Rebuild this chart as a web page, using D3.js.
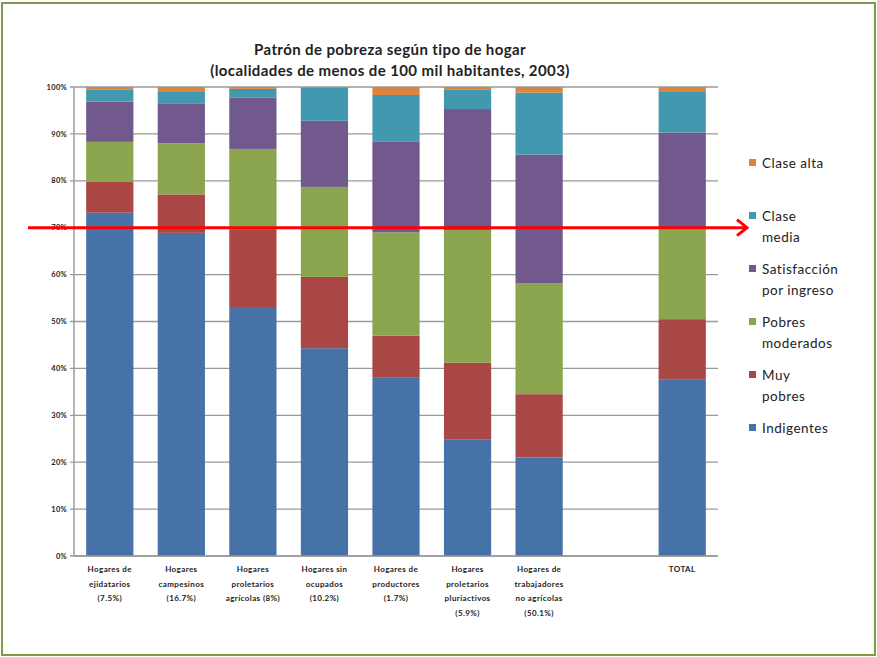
<!DOCTYPE html>
<html>
<head>
<meta charset="utf-8">
<script src="https://cdn.jsdelivr.net/npm/d3@7"></script>
<style>
  body { margin: 0; background: #fff; }
  svg { display: block; font-family: Lato, "Open Sans", sans-serif; }
</style>
</head>
<body>
<div id="chart"></div>
<script>
// categories (x axis), each label split in lines
var categories = ["ejidatarios", "campesinos", "prolAgricolas", "sinOcupados", "productores",
                  "pluriactivos", "noAgricolas", "blank", "total"];
var catLabels = [
  ["Hogares de", "ejidatarios", "(7.5%)"],
  ["Hogares", "campesinos", "(16.7%)"],
  ["Hogares", "proletarios", "agrícolas (8%)"],
  ["Hogares sin", "ocupados", "(10.2%)"],
  ["Hogares de", "productores", "(1.7%)"],
  ["Hogares", "proletarios", "pluriactivos", "(5.9%)"],
  ["Hogares de", "trabajadores", "no agrícolas", "(50.1%)"],
  [],
  ["TOTAL"]
];

// series values (% of households), bottom to top
var indigentes   = [73.2, 68.9, 53.1, 44.3, 38.0, 24.9, 21.0, 0, 37.7];
var muyPobres    = [ 6.6,  8.2, 16.6, 15.2,  9.0, 16.3, 13.5, 0, 12.8];
var pobresMod    = [ 8.5, 10.9, 17.1, 19.2, 22.0, 28.3, 23.6, 0, 19.2];
var satisfaccion = [ 8.6,  8.4, 10.9, 14.1, 19.3, 25.8, 27.5, 0, 20.6];
var claseMedia   = [ 2.6,  2.7,  1.9,  7.0, 10.0,  4.2, 13.2, 0,  8.8];
var claseAlta    = [ 0.5,  0.9,  0.4,  0.2,  1.7,  0.5,  1.2, 0,  0.9];

var seriesKeys = ["indigentes", "muyPobres", "pobresMod", "satisfaccion", "claseMedia", "claseAlta"];
var seriesNames = [["Indigentes"], ["Muy", "pobres"], ["Pobres", "moderados"],
                   ["Satisfacción", "por ingreso"], ["Clase", "media"], ["Clase alta"]];
var colors = ["#4672a7", "#a94744", "#8aa54e", "#71598e", "#4298ae", "#db843d"];

var yTicks = [0, 10, 20, 30, 40, 50, 60, 70, 80, 90, 100];
var markerValue = 70; // red arrow annotation

var width = 877, height = 657;
var margin = {top: 87, left: 74, right: 159, bottom: 101};

var svg = d3.select("#chart").append("svg")
  .attr("width", width)
  .attr("height", height);

// outer frame
svg.append("rect")
  .attr("x", 2).attr("y", 3)
  .attr("width", width - 4).attr("height", height - 5)
  .attr("fill", "#fff")
  .attr("stroke", "#7f9b48")
  .attr("stroke-width", 2);

// build table for stacking
var table = categories.map(function(c, i) {
  return {
    cat: c,
    indigentes: indigentes[i], muyPobres: muyPobres[i], pobresMod: pobresMod[i],
    satisfaccion: satisfaccion[i], claseMedia: claseMedia[i], claseAlta: claseAlta[i]
  };
});
var stacked = d3.stack().keys(seriesKeys)(table);

var x = d3.scaleBand()
  .domain(categories)
  .range([margin.left, width - margin.right])
  .paddingInner(0.34)
  .paddingOuter(0.17);

var y = d3.scaleLinear()
  .domain([0, 100])
  .range([height - margin.bottom, margin.top]);

// gridlines
svg.append("g")
  .selectAll("line")
  .data(yTicks)
  .enter().append("line")
    .attr("x1", margin.left - 4)
    .attr("x2", width - margin.right)
    .attr("y1", function(d) { return y(d); })
    .attr("y2", function(d) { return y(d); })
    .attr("stroke", "#9a9a9a")
    .attr("stroke-width", 1.3);

// y axis line
svg.append("line")
  .attr("x1", margin.left).attr("x2", margin.left)
  .attr("y1", y(0)).attr("y2", y(100))
  .attr("stroke", "#9a9a9a")
  .attr("stroke-width", 1.5);

// y tick labels
svg.append("g")
  .selectAll("text")
  .data(yTicks)
  .enter().append("text")
    .attr("x", margin.left - 7)
    .attr("y", function(d) { return y(d); })
    .attr("dy", "0.35em")
    .attr("text-anchor", "end")
    .style("font-size", "7.5px")
    .style("font-weight", "bold")
    .style("letter-spacing", "0.3px")
    .attr("fill", "#222")
    .text(function(d) { return d + "%"; });

// stacked bars
svg.append("g")
  .selectAll("g")
  .data(stacked)
  .enter().append("g")
    .attr("fill", function(d, i) { return colors[i]; })
  .selectAll("rect")
  .data(function(d) { return d; })
  .enter().append("rect")
    .attr("x", function(d) { return x(d.data.cat); })
    .attr("width", x.bandwidth())
    .attr("y", function(d) { return y(d[1]); })
    .attr("height", function(d) { return y(d[0]) - y(d[1]); });

// x axis line
svg.append("line")
  .attr("x1", margin.left).attr("x2", width - margin.right)
  .attr("y1", y(0)).attr("y2", y(0))
  .attr("stroke", "#9a9a9a")
  .attr("stroke-width", 1.5);

// x labels
var xl = svg.append("g")
  .selectAll("text")
  .data(categories)
  .enter().append("text")
    .attr("x", function(d) { return x(d) + x.bandwidth() / 2; })
    .attr("y", y(0) + 16)
    .attr("text-anchor", "middle")
    .style("font-size", "8px")
    .style("font-weight", "bold")
    .style("letter-spacing", "0.4px")
    .attr("fill", "#222");
xl.each(function(d, i) {
  var t = d3.select(this);
  catLabels[i].forEach(function(line, j) {
    t.append("tspan")
      .attr("x", x(d) + x.bandwidth() / 2)
      .attr("dy", j == 0 ? 0 : 14.5)
      .text(line);
  });
});

// title
var title = svg.append("text")
  .attr("x", 390)
  .attr("y", 55)
  .attr("text-anchor", "middle")
  .style("font-size", "15px")
  .style("font-weight", "bold")
  .style("letter-spacing", "0.4px")
  .attr("fill", "#222");
title.append("tspan").attr("x", 390).text("Patrón de pobreza según tipo de hogar");
title.append("tspan").attr("x", 390).attr("dy", 21).text("(localidades de menos de 100 mil habitantes, 2003)");

// legend (top entry first)
var legendStart = 163, legendStep = 53;
var legend = svg.append("g")
  .selectAll("g")
  .data(d3.range(seriesKeys.length).reverse())
  .enter().append("g")
    .attr("transform", function(d, i) { return "translate(749," + (legendStart + i * legendStep) + ")"; });
legend.append("rect")
  .attr("x", 0).attr("y", -4)
  .attr("width", 7).attr("height", 7)
  .attr("fill", function(d) { return colors[d]; });
legend.append("text")
  .attr("x", 13)
  .attr("y", 0)
  .style("font-size", "13.5px")
  .style("letter-spacing", "0.5px")
  .attr("fill", "#222")
  .each(function(d) {
    var t = d3.select(this);
    seriesNames[d].forEach(function(line, j) {
      t.append("tspan").attr("x", 13).attr("dy", j == 0 ? "0.35em" : 21).text(line);
    });
  });

// red arrow marking 70%
var ay = y(markerValue);
svg.append("line")
  .attr("x1", 28).attr("x2", 746)
  .attr("y1", ay).attr("y2", ay)
  .attr("stroke", "#ff0000")
  .attr("stroke-width", 3);
svg.append("path")
  .attr("d", "M" + 737 + "," + (ay - 8) + "L" + 747 + "," + ay + "L" + 737 + "," + (ay + 8))
  .attr("fill", "none")
  .attr("stroke", "#ff0000")
  .attr("stroke-width", 3);
</script>
</body>
</html>
